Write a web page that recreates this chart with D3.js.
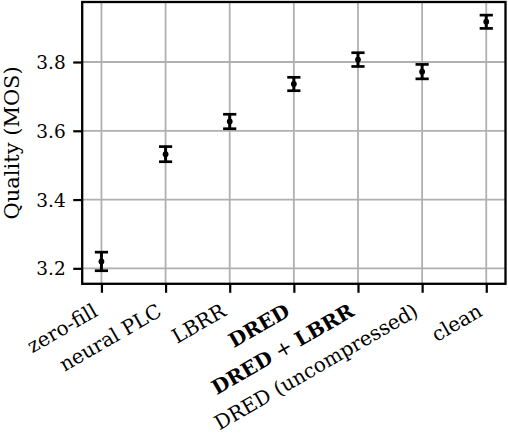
<!DOCTYPE html>
<html>
<head>
<meta charset="utf-8">
<script src="https://cdn.jsdelivr.net/npm/d3@7"></script>
<style>
  body { margin: 0; background: #fff; }
  svg { display: block; }
  text { font-family: "DejaVu Serif", "Liberation Serif", serif; fill: #000; }
</style>
</head>
<body>
<div id="chart"></div>
<script>
// MOS per packet-loss method, with 95% confidence half-widths
var methods = ["zero-fill", "neural PLC", "LBRR", "DRED", "DRED + LBRR", "DRED (uncompressed)", "clean"];
var boldMethods = ["DRED", "DRED + LBRR"];
var mos = [3.220, 3.532, 3.627, 3.736, 3.807, 3.772, 3.917];
var ci = [0.027, 0.022, 0.021, 0.0195, 0.020, 0.021, 0.0193];
var yTicks = [3.2, 3.4, 3.6, 3.8];

var W = 508, H = 434;
var plotL = 82.2, plotR = 505.5, plotT = 2, plotB = 283.8;

var svg = d3.select("#chart").append("svg")
    .attr("width", W)
    .attr("height", H);

var x = d3.scaleLinear().domain([-0.3, methods.length - 0.7]).range([plotL, plotR]);
var y = d3.scaleLinear().domain([3.155, 3.9745]).range([plotB, plotT]);

// grid
svg.append("g").selectAll("line")
    .data(d3.range(methods.length))
  .enter().append("line")
    .attr("x1", function(d) { return x(d); })
    .attr("x2", function(d) { return x(d); })
    .attr("y1", plotT).attr("y2", plotB)
    .style("stroke", "#b0b0b0").style("stroke-width", 1.8);

svg.append("g").selectAll("line")
    .data(yTicks)
  .enter().append("line")
    .attr("x1", plotL).attr("x2", plotR)
    .attr("y1", function(d) { return y(d); })
    .attr("y2", function(d) { return y(d); })
    .style("stroke", "#b0b0b0").style("stroke-width", 1.8);

// error bars
var bars = svg.append("g").selectAll("g")
    .data(mos)
  .enter().append("g");

bars.append("line")
    .attr("x1", function(d, i) { return x(i); })
    .attr("x2", function(d, i) { return x(i); })
    .attr("y1", function(d, i) { return y(d - ci[i]); })
    .attr("y2", function(d, i) { return y(d + ci[i]); })
    .style("stroke", "#000").style("stroke-width", 3);

[-1, 1].forEach(function(s) {
  bars.append("line")
      .attr("x1", function(d, i) { return x(i) - 6.6; })
      .attr("x2", function(d, i) { return x(i) + 6.6; })
      .attr("y1", function(d, i) { return y(d + s * ci[i]); })
      .attr("y2", function(d, i) { return y(d + s * ci[i]); })
      .style("stroke", "#000").style("stroke-width", 2.7);
});

bars.append("circle")
    .attr("cx", function(d, i) { return x(i); })
    .attr("cy", function(d) { return y(d); })
    .attr("r", 2.9)
    .style("fill", "#000");

// axes
var yAxis = svg.append("g")
    .attr("transform", "translate(" + plotL + ",0)")
    .call(d3.axisLeft(y).tickValues(yTicks).tickSize(9).tickPadding(7.5).tickFormat(d3.format(".1f")));
yAxis.select(".domain").remove();
yAxis.selectAll("line").style("stroke-width", 2.2);
yAxis.selectAll("text").style("font-size", "18.5px").attr("dy", "0.35em");

var xAxis = svg.append("g")
    .attr("transform", "translate(0," + plotB + ")")
    .call(d3.axisBottom(x).tickValues(d3.range(methods.length)).tickSize(9).tickFormat(""));
xAxis.select(".domain").remove();
xAxis.selectAll("line").style("stroke-width", 2.2);

xAxis.selectAll(".tick").each(function(d) {
  var name = methods[d];
  var t = d3.select(this).append("text")
      .attr("text-anchor", "end")
      .attr("transform", "translate(-3," + (315 - plotB) + ") rotate(-30)")
      .style("font-size", "20px");
  if (boldMethods.indexOf(name) < 0) {
    t.text(name);
  } else {
    name.split(" + ").forEach(function(part, k) {
      if (k > 0) t.append("tspan").text(" + ");
      t.append("tspan").style("font-weight", "bold").text(part);
    });
  }
});

// frame
svg.append("rect")
    .attr("x", plotL).attr("y", plotT)
    .attr("width", plotR - plotL).attr("height", plotB - plotT)
    .style("fill", "none").style("stroke", "#000").style("stroke-width", 2.3);

svg.append("text")
    .attr("transform", "translate(18.5," + ((plotT + plotB) / 2) + ") rotate(-90)")
    .attr("text-anchor", "middle")
    .style("font-size", "21px")
    .text("Quality (MOS)");
</script>
</body>
</html>
